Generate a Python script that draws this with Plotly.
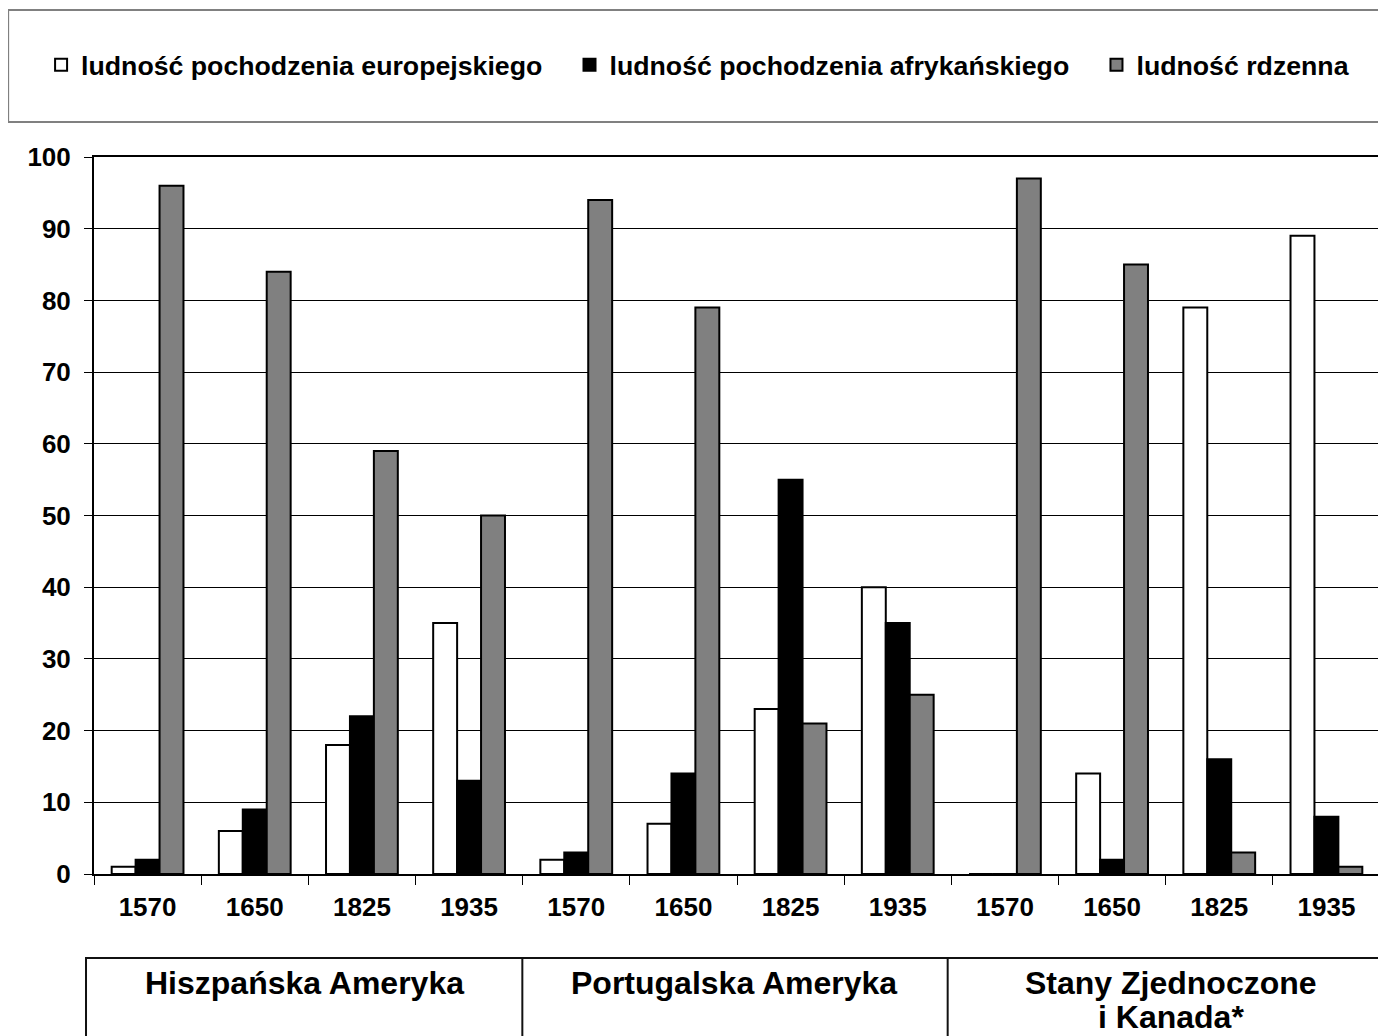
import plotly.graph_objects as go

years = ["1570", "1650", "1825", "1935"] * 3
regions = ["Hiszpańska Ameryka", "Portugalska Ameryka", "Stany Zjednoczone<br>i Kanada*"]
europejska = [1, 6, 18, 35, 2, 7, 23, 40, 0, 14, 79, 89]
afrykanska = [2, 9, 22, 13, 3, 14, 55, 35, 0, 2, 16, 8]
rdzenna = [96, 84, 59, 50, 94, 79, 21, 25, 97, 85, 3, 1]
series_names = ["ludność pochodzenia europejskiego",
                "ludność pochodzenia afrykańskiego",
                "ludność rdzenna"]
series_colors = ["#FFFFFF", "#000000", "#808080"]

# page has an 8px body margin; figure drawn so that it lands at reference pixels
OFF = 8
W, H = 1386 - OFF, 1036 - OFF
L, R, T, B = 94 - OFF, 4, 157 - OFF, 162
pw, ph = W - L - R, H - T - B

def px(x):  # reference screen x -> paper
    return (x - OFF - L) / pw

def py(y):  # reference screen y -> paper
    return (H - B - (y - OFF)) / ph

FONT = "Liberation Sans, Arial, sans-serif"
xs = list(range(len(years)))
PAD = "\u00a0\u00a0\u00a0"

fig = go.Figure()
for i, (name, vals, col) in enumerate(zip(series_names, [europejska, afrykanska, rdzenna], series_colors)):
    fig.add_trace(go.Bar(
        x=xs, y=vals, name=name + (PAD if i < 2 else ""),
        marker=dict(color=col, line=dict(color="#000000", width=2)),
    ))

fig.update_layout(
    width=W, height=H,
    margin=dict(l=L, r=R, t=T, b=B, pad=0),
    paper_bgcolor="white", plot_bgcolor="white",
    barmode="group", bargap=0.33, bargroupgap=0,
    font=dict(family=FONT, color="black"),
    showlegend=True,
    legend=dict(
        orientation="h", x=px(41), xanchor="left", y=py(65), yanchor="middle",
        font=dict(size=26.7, family=FONT, color="black", weight="bold"),
        bgcolor="rgba(0,0,0,0)", borderwidth=0,
        traceorder="normal",
    ),
    xaxis=dict(
        range=[-0.5, len(years) - 0.5],
        tickvals=xs, ticktext=[f"<b>{y}</b>" for y in years],
        ticks="", showgrid=False, zeroline=False,
        showline=True, linecolor="black", linewidth=2, mirror=True,
        tickfont=dict(size=26, family=FONT, color="black"),
        ticklabelstandoff=9,
        minor=dict(tickvals=[i - 0.5 for i in range(len(years) + 1)],
                   ticks="outside", ticklen=9, tickcolor="black", tickwidth=1),
    ),
    yaxis=dict(
        range=[0, 100], dtick=10,
        tickformat="d",
        ticks="outside", ticklen=8, tickcolor="black", tickwidth=1,
        showgrid=True, gridcolor="black", gridwidth=1,
        zeroline=False,
        showline=True, linecolor="black", linewidth=2, mirror=True,
        tickfont=dict(size=26, family=FONT, color="black", weight="bold"),
        ticklabelstandoff=8,
    ),
)

# legend frame
fig.add_shape(type="rect", xref="paper", yref="paper",
              x0=px(8), x1=px(1400), y0=py(122), y1=py(10),
              line=dict(color="#808080", width=2), fillcolor="rgba(0,0,0,0)", layer="below")

# bottom region table
tbl_top, tbl_bot = 958, 1045
fig.add_shape(type="rect", xref="paper", yref="paper",
              x0=px(86), x1=px(1400), y0=py(tbl_bot), y1=py(tbl_top),
              line=dict(color="#111111", width=2), fillcolor="rgba(0,0,0,0)")
for xd in [523, 949]:
    fig.add_shape(type="line", xref="paper", yref="paper",
                  x0=px(xd), x1=px(xd), y0=py(tbl_bot), y1=py(tbl_top),
                  line=dict(color="#111111", width=2))

region_centers = [305, 735, 1173]
for reg, cx in zip(regions, region_centers):
    for k, line in enumerate(reg.split("<br>")):
        fig.add_annotation(
            x=px(cx), y=py(983 + 34 * k), xref="paper", yref="paper",
            xanchor="center", yanchor="middle", showarrow=False,
            text=f"<b>{line}</b>", align="center",
            font=dict(size=32, family=FONT, color="black"),
        )

fig.write_html("out.html")
